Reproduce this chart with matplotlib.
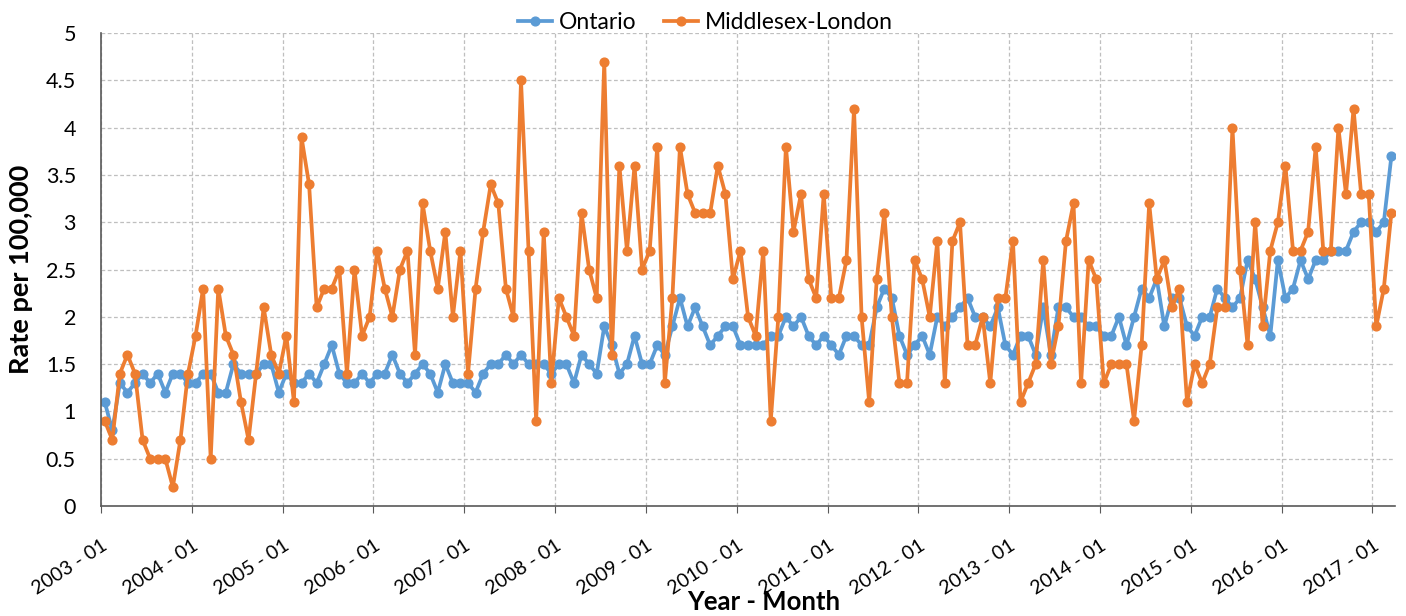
import numpy as np
import matplotlib.pyplot as plt
from matplotlib.transforms import ScaledTranslation

plt.rcParams['font.family'] = ['Lato', 'DejaVu Sans']

# monthly rates, 2003-01 .. 2017-03
ontario = [1.1, 0.8, 1.3, 1.2, 1.3, 1.4, 1.3, 1.4, 1.2, 1.4, 1.4, 1.3,
           1.3, 1.4, 1.4, 1.2, 1.2, 1.5, 1.4, 1.4, 1.4, 1.5, 1.5, 1.2,
           1.4, 1.3, 1.3, 1.4, 1.3, 1.5, 1.7, 1.4, 1.3, 1.3, 1.4, 1.3,
           1.4, 1.4, 1.6, 1.4, 1.3, 1.4, 1.5, 1.4, 1.2, 1.5, 1.3, 1.3,
           1.3, 1.2, 1.4, 1.5, 1.5, 1.6, 1.5, 1.6, 1.5, 1.5, 1.5, 1.4,
           1.5, 1.5, 1.3, 1.6, 1.5, 1.4, 1.9, 1.7, 1.4, 1.5, 1.8, 1.5,
           1.5, 1.7, 1.6, 1.9, 2.2, 1.9, 2.1, 1.9, 1.7, 1.8, 1.9, 1.9,
           1.7, 1.7, 1.7, 1.7, 1.8, 1.8, 2.0, 1.9, 2.0, 1.8, 1.7, 1.8,
           1.7, 1.6, 1.8, 1.8, 1.7, 1.7, 2.1, 2.3, 2.2, 1.8, 1.6, 1.7,
           1.8, 1.6, 2.0, 1.9, 2.0, 2.1, 2.2, 2.0, 2.0, 1.9, 2.1, 1.7,
           1.6, 1.8, 1.8, 1.6, 2.1, 1.6, 2.1, 2.1, 2.0, 2.0, 1.9, 1.9,
           1.8, 1.8, 2.0, 1.7, 2.0, 2.3, 2.2, 2.4, 1.9, 2.2, 2.2, 1.9,
           1.8, 2.0, 2.0, 2.3, 2.2, 2.1, 2.2, 2.6, 2.4, 2.1, 1.8, 2.6,
           2.2, 2.3, 2.6, 2.4, 2.6, 2.6, 2.7, 2.7, 2.7, 2.9, 3.0, 3.0,
           2.9, 3.0, 3.7]

middlesex = [0.9, 0.7, 1.4, 1.6, 1.4, 0.7, 0.5, 0.5, 0.5, 0.2, 0.7, 1.4,
             1.8, 2.3, 0.5, 2.3, 1.8, 1.6, 1.1, 0.7, 1.4, 2.1, 1.6, 1.4,
             1.8, 1.1, 3.9, 3.4, 2.1, 2.3, 2.3, 2.5, 1.4, 2.5, 1.8, 2.0,
             2.7, 2.3, 2.0, 2.5, 2.7, 1.6, 3.2, 2.7, 2.3, 2.9, 2.0, 2.7,
             1.4, 2.3, 2.9, 3.4, 3.2, 2.3, 2.0, 4.5, 2.7, 0.9, 2.9, 1.3,
             2.2, 2.0, 1.8, 3.1, 2.5, 2.2, 4.7, 1.6, 3.6, 2.7, 3.6, 2.5,
             2.7, 3.8, 1.3, 2.2, 3.8, 3.3, 3.1, 3.1, 3.1, 3.6, 3.3, 2.4,
             2.7, 2.0, 1.8, 2.7, 0.9, 2.0, 3.8, 2.9, 3.3, 2.4, 2.2, 3.3,
             2.2, 2.2, 2.6, 4.2, 2.0, 1.1, 2.4, 3.1, 2.0, 1.3, 1.3, 2.6,
             2.4, 2.0, 2.8, 1.3, 2.8, 3.0, 1.7, 1.7, 2.0, 1.3, 2.2, 2.2,
             2.8, 1.1, 1.3, 1.5, 2.6, 1.5, 1.9, 2.8, 3.2, 1.3, 2.6, 2.4,
             1.3, 1.5, 1.5, 1.5, 0.9, 1.7, 3.2, 2.4, 2.6, 2.1, 2.3, 1.1,
             1.5, 1.3, 1.5, 2.1, 2.1, 4.0, 2.5, 1.7, 3.0, 1.9, 2.7, 3.0,
             3.6, 2.7, 2.7, 2.9, 3.8, 2.7, 2.7, 4.0, 3.3, 4.2, 3.3, 3.3,
             1.9, 2.3, 3.1]

years = list(range(2003, 2018))
tick_labels = ['%d - 01' % y for y in years]

x = np.arange(len(ontario))

fig = plt.figure(figsize=(14.06, 6.16), dpi=100)
ax = fig.add_axes([0.0718, 0.1786, 0.9205, 0.7675])

ax.plot(x, ontario, color='#5B9BD5', lw=2.7, marker='o', ms=6.3, label='Ontario')
ax.plot(x, middlesex, color='#ED7D31', lw=2.7, marker='o', ms=6.3, label='Middlesex-London')

ax.set_xlim(-0.5, len(ontario) - 0.5)
ax.set_ylim(0, 5)
ax.set_yticks(np.arange(0, 5.01, 0.5))
ax.set_yticklabels(['0', '0.5', '1', '1.5', '2', '2.5', '3', '3.5', '4', '4.5', '5'], fontsize=15.5)
ax.set_xticks([-0.5 + 12 * k for k in range(len(years))])
ax.set_xticklabels(tick_labels, fontsize=14, rotation=33, ha='right', rotation_mode='anchor')
shift = ScaledTranslation(0.06, 0, fig.dpi_scale_trans)
for lab in ax.get_xticklabels():
    lab.set_transform(lab.get_transform() + shift)

ax.grid(True, color='#BFBFBF', linestyle=(0, (3, 2)), linewidth=0.9)
ax.set_axisbelow(True)
for s in ['top', 'right']:
    ax.spines[s].set_visible(False)
for s in ['left', 'bottom']:
    ax.spines[s].set_color('#595959')
    ax.spines[s].set_linewidth(1.2)
ax.tick_params(axis='x', length=5, color='#595959', pad=17)
ax.tick_params(axis='y', length=0, pad=18)

ax.set_ylabel('Rate per 100,000', fontsize=19.5, fontweight='bold', labelpad=9)
fig.text(0.543, 0.003, 'Year - Month', fontsize=18.5, fontweight='bold', ha='center', va='bottom')

fig.legend(*ax.get_legend_handles_labels(), loc='center', bbox_to_anchor=(0.5018, 0.963),
           ncol=2, frameon=False, fontsize=16.5, handlelength=1.5, columnspacing=1.2,
           handletextpad=0.3)

fig.savefig('out.png', dpi=100)
